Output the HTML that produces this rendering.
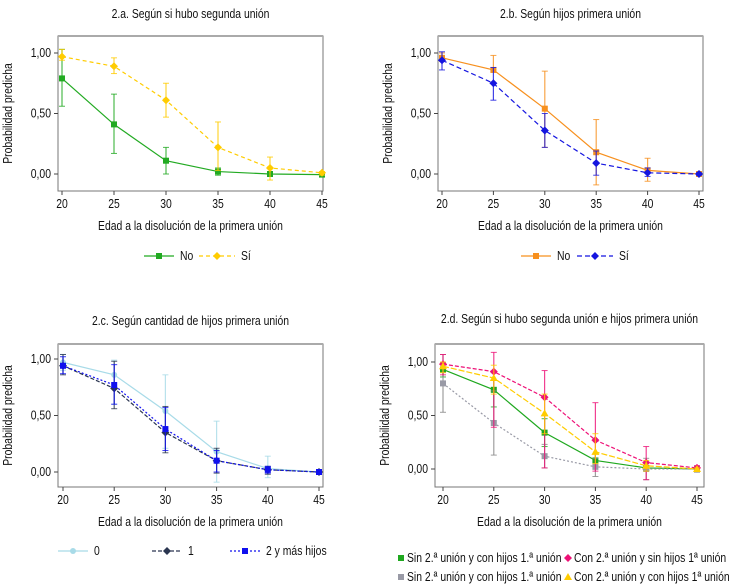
<!DOCTYPE html>
<html><head><meta charset="utf-8">
<style>
html,body{margin:0;padding:0;background:#fff;}
svg{display:block;font-family:"Liberation Sans",sans-serif;}
text{fill:#111;}
</style></head>
<body>
<svg id="chart" width="738" height="588" viewBox="0 0 738 588" xmlns="http://www.w3.org/2000/svg"></svg>
<script>
const categories=[20,25,30,35,40,45];
const yTicks=[0,0.5,1];
const yTickLabels=["0,00","0,50","1,00"];
// Panel a
const aNo=[0.79,0.41,0.11,0.02,0.0,-0.005];
const aNoLo=[0.56,0.17,0.0,-0.01,-0.005,-0.01];
const aNoHi=[1.03,0.66,0.22,0.05,0.005,0.0];
const aSi=[0.97,0.89,0.61,0.22,0.05,0.01];
const aSiLo=[0.94,0.83,0.47,0.03,-0.05,-0.01];
const aSiHi=[1.03,0.96,0.75,0.43,0.14,0.02];
// Panel b
const bNo=[0.96,0.86,0.54,0.18,0.03,0.0];
const bNoLo=[0.93,0.86,0.22,-0.09,-0.06,0.0];
const bNoHi=[1.0,0.98,0.85,0.45,0.13,0.02];
const bSi=[0.94,0.75,0.36,0.09,0.01,0.0];
const bSiLo=[0.86,0.61,0.22,-0.01,-0.02,-0.01];
const bSiHi=[1.01,0.88,0.50,0.19,0.05,0.01];
// Panel c
const c0=[0.97,0.86,0.54,0.18,0.03,0.0];
const c0Lo=[0.90,0.60,0.21,-0.09,-0.05,-0.01];
const c0Hi=[1.04,0.99,0.86,0.45,0.14,0.01];
const c1=[0.94,0.74,0.35,0.10,0.02,0.0];
const c1Lo=[0.86,0.56,0.17,-0.01,-0.02,-0.01];
const c1Hi=[1.04,0.98,0.58,0.21,0.05,0.01];
const c2=[0.94,0.77,0.38,0.10,0.02,0.0];
const c2Lo=[0.87,0.60,0.19,0.0,-0.01,-0.01];
const c2Hi=[1.02,0.95,0.57,0.19,0.05,0.01];
// Panel d
const dGreen=[0.93,0.74,0.34,0.08,0.01,0.0];
const dGreenLo=[0.86,0.58,0.21,0.03,-0.01,-0.01];
const dGreenHi=[0.99,0.90,0.47,0.14,0.03,0.01];
const dGray=[0.80,0.43,0.12,0.02,0.0,0.0];
const dGrayLo=[0.53,0.13,0.01,-0.07,-0.10,-0.03];
const dGrayHi=[1.07,0.73,0.23,0.10,0.10,0.03];
const dPink=[0.98,0.91,0.67,0.27,0.06,0.01];
const dPinkLo=[0.88,0.39,0.01,-0.02,-0.10,-0.01];
const dPinkHi=[1.07,1.09,0.92,0.62,0.21,0.03];
const dYellow=[0.96,0.85,0.52,0.16,0.03,0.0];
const dYellowLo=[0.90,0.70,0.33,0.05,-0.02,-0.01];
const dYellowHi=[1.00,0.97,0.70,0.33,0.08,0.01];

const NS="http://www.w3.org/2000/svg";
const svg=document.getElementById('chart');
const SX=0.8;
function el(tag,attrs,parent,txt){const e=document.createElementNS(NS,tag);for(const k in attrs)e.setAttribute(k,attrs[k]);if(txt!==undefined)e.textContent=txt;(parent||svg).appendChild(e);return e;}
function txt(parent,x,y,s,anchor,size,rot){
  let tr=`translate(${x} ${y})`+(rot?` rotate(${rot})`:'')+` scale(${SX} 1)`;
  return el('text',{x:0,y:0,'text-anchor':anchor||'start','font-size':size||13,transform:tr},parent,s);
}

function marker(g,shape,x,y,color){
  let m;
  if(shape==='square'){m=el('rect',{x:x-3,y:y-3,width:6,height:6,fill:color},g);}
  else if(shape==='diamond'){m=el('polygon',{points:`${x},${y-4} ${x+4},${y} ${x},${y+4} ${x-4},${y}`,fill:color},g);}
  else if(shape==='triangle'){m=el('polygon',{points:`${x},${y-4} ${x+4},${y+3} ${x-4},${y+3}`,fill:color},g);}
  else {m=el('circle',{cx:x,cy:y,r:3,fill:color},g);}
  return m;
}

function panel(p){
  const g=el('g',{});
  
  
  const xS=v=>p.x20+(v-20)*(p.x45-p.x20)/25;
  const yS=v=>p.y0+(p.y1-p.y0)*v;
  const t=txt(g,(p.fl+p.fr)/2,p.titleY,p.title,'middle',13);
  
  const fr=el('rect',{x:p.fl,y:p.ft,width:p.fr-p.fl,height:p.fb-p.ft,fill:'#fff',stroke:'#777','stroke-width':1},g);
  
  el('line',{x1:p.fl,y1:p.ft,x2:p.fr,y2:p.ft,stroke:'#aaa','stroke-width':2},g);
  yTicks.forEach((v,i)=>{
    el('line',{x1:p.fl-4,x2:p.fl,y1:yS(v),y2:yS(v),stroke:'#444'},g);
    const l=txt(g,p.fl-7,yS(v)+4,yTickLabels[i],'end',13);
    
  });
  categories.forEach(c=>{
    el('line',{x1:xS(c),x2:xS(c),y1:p.fb,y2:p.fb+4,stroke:'#444'},g);
    const l=txt(g,xS(c),p.fb+17,String(c),'middle',13);
    
  });
  const xt=txt(g,(p.fl+p.fr)/2,p.fb+39,'Edad a la disolución de la primera unión','middle',13);
  
  const yt=txt(g,p.fl-46,(p.ft+p.fb)/2,'Probabilidad predicha','middle',13,-90);
  yt.setAttribute('transform',`translate(${p.fl-46} ${(p.ft+p.fb)/2}) rotate(-90) scale(${SX} 1)`);
  
  p.series.forEach(s=>{
    const sg=el('g',{},g);
    
    s.vals.forEach((v,i)=>{
      const x=xS(categories[i]);
      el('line',{x1:x,x2:x,y1:yS(s.lo[i]),y2:yS(s.hi[i]),stroke:s.ecol||s.color,'stroke-width':1.2,opacity:0.8},sg);
      el('line',{x1:x-3,x2:x+3,y1:yS(s.lo[i]),y2:yS(s.lo[i]),stroke:s.ecol||s.color,opacity:0.8},sg);
      el('line',{x1:x-3,x2:x+3,y1:yS(s.hi[i]),y2:yS(s.hi[i]),stroke:s.ecol||s.color,opacity:0.8},sg);
    });
    const pts=s.vals.map((v,i)=>xS(categories[i])+','+yS(v)).join(' ');
    const line=el('polyline',{points:pts,fill:'none',stroke:s.color,'stroke-width':1.2,'stroke-dasharray':s.dash||'none'},sg);
    
    s.vals.forEach((v,i)=>{
      const m=marker(sg,s.shape,xS(categories[i]),yS(v),s.color);
      
    });
  });
  (p.legend||[]).forEach(L=>{
    const s=p.series[L.i];
    const lg=el('g',{},g);
    
    if(L.w>0){el('line',{x1:L.x,x2:L.x+L.w,y1:L.y,y2:L.y,stroke:s.color,'stroke-width':1.2,'stroke-dasharray':s.dash||'none'},lg);}
    marker(lg,s.shape,L.x+L.w/2,L.y,s.color);
    txt(lg,L.x+L.w+6,L.y+4,L.label,'start',13);
  });
}

panel({name:'panel-a',title:'2.a. Según si hubo segunda unión',titleY:18,fl:58,fr:323,ft:36,fb:191,x20:62,x45:322,y0:174,y1:53,
 series:[{key:'no',vals:aNo,lo:aNoLo,hi:aNoHi,color:'#22aa22',shape:'square'},
         {key:'si',vals:aSi,lo:aSiLo,hi:aSiHi,color:'#ffcc00',shape:'diamond',dash:'4,3'}],
 legend:[{i:0,x:144,y:256,w:30,label:'No'},{i:1,x:199,y:256,w:36,label:'Sí'}]});
panel({name:'panel-b',title:'2.b. Según hijos primera unión',titleY:18,fl:438,fr:703,ft:36,fb:191,x20:442,x45:699,y0:174,y1:53,
 series:[{key:'no',vals:bNo,lo:bNoLo,hi:bNoHi,color:'#f7901e',shape:'square'},
         {key:'si',vals:bSi,lo:bSiLo,hi:bSiHi,color:'#1515e0',shape:'diamond',dash:'5,3'}],
 legend:[{i:0,x:521,y:256,w:30,label:'No'},{i:1,x:577,y:256,w:36,label:'Sí'}]});
panel({name:'panel-c',title:'2.c. Según cantidad de hijos primera unión',titleY:325,fl:58,fr:323,ft:344,fb:487,x20:63,x45:319,y0:472,y1:359,
 series:[{key:'0',vals:c0,lo:c0Lo,hi:c0Hi,color:'#a8dbe8',shape:'circle'},
         {key:'1',vals:c1,lo:c1Lo,hi:c1Hi,color:'#2a3550',shape:'diamond',dash:'4,2'},
         {key:'2mas',vals:c2,lo:c2Lo,hi:c2Hi,color:'#1010ee',shape:'square',dash:'2,2'}],
 legend:[{i:0,x:58,y:551,w:30,label:'0'},{i:1,x:152,y:551,w:30,label:'1'},{i:2,x:230,y:551,w:30,label:'2 y más hijos'}]});
panel({name:'panel-d',title:'2.d. Según si hubo segunda unión e hijos primera unión',titleY:323,fl:435,fr:704,ft:344,fb:487,x20:443,x45:697,y0:469,y1:362,
 series:[{key:'sin2-conhijos',vals:dGreen,lo:dGreenLo,hi:dGreenHi,color:'#1fa81f',shape:'square'},
         {key:'sin2-conhijos-b',vals:dGray,lo:dGrayLo,hi:dGrayHi,color:'#999aa6',ecol:'#888',shape:'square',dash:'2,2'},
         {key:'con2-sinhijos',vals:dPink,lo:dPinkLo,hi:dPinkHi,color:'#ee1177',shape:'diamond',dash:'4,2'},
         {key:'con2-conhijos',vals:dYellow,lo:dYellowLo,hi:dYellowHi,color:'#ffcc00',shape:'triangle',dash:'6,2'}],
 legend:[{i:0,x:401,y:558,w:0,label:'Sin 2.ª unión y con hijos 1.ª unión'},
         {i:2,x:568,y:558,w:0,label:'Con 2.ª unión y sin hijos 1ª unión'},
         {i:1,x:401,y:577,w:0,label:'Sin 2.ª unión y con hijos 1.ª unión'},
         {i:3,x:568,y:577,w:0,label:'Con 2.ª unión y con hijos 1ª unión'}]});
</script>
</body></html>
